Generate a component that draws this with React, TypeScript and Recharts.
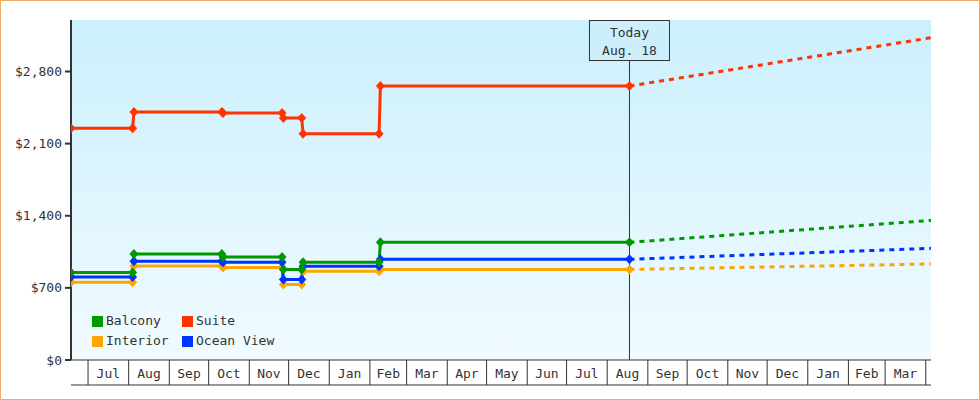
import { LineChart, Line, XAxis, YAxis, CartesianGrid, ReferenceLine } from "recharts";

const FONT = '"DejaVu Sans Mono", "Liberation Mono", monospace';
const INK = "#333333";

// days counted from the first price check (Jun 18)
const priceDays = [0, 47, 48, 115, 116, 161, 162, 176, 177, 235, 236, 426];
const interior = [755, 755, 913, 913, 899, 899, 733, 733, 861, 861, 879, 879];
const oceanView = [805, 805, 958, 958, 948, 948, 782, 782, 909, 909, 977, 977];
const balcony = [850, 850, 1029, 1029, 999, 999, 879, 879, 949, 949, 1142, 1142];
const suite = [2249, 2249, 2407, 2407, 2397, 2397, 2349, 2349, 2197, 2197, 2659, 2659];

// forecast from today to the end of the range
const forecastDays = [426, 656];
const interiorForecast = [879, 932];
const oceanViewForecast = [977, 1084];
const balconyForecast = [1142, 1355];
const suiteForecast = [2659, 3128];

const todayDay = 426;
const todayLines = ["Today", "Aug. 18"];

const monthStarts = [13, 44, 75, 105, 136, 166, 197, 228, 256, 287, 317, 348, 378, 409, 440, 470, 501, 531, 562, 593, 621, 652];
const monthNames = ["Jul", "Aug", "Sep", "Oct", "Nov", "Dec", "Jan", "Feb", "Mar", "Apr", "May", "Jun",
  "Jul", "Aug", "Sep", "Oct", "Nov", "Dec", "Jan", "Feb", "Mar"];
const yTicks = [0, 700, 1400, 2100, 2800];

const series = [
  { name: "Interior", color: "#ffa500", hist: interior, proj: interiorForecast },
  { name: "Ocean View", color: "#0033ff", hist: oceanView, proj: oceanViewForecast },
  { name: "Balcony", color: "#009900", hist: balcony, proj: balconyForecast },
  { name: "Suite", color: "#ff3300", hist: suite, proj: suiteForecast },
];
const legendOrder = ["Balcony", "Suite", "Interior", "Ocean View"];

const toPoints = (days: number[], vals: number[]) => days.map((day, i) => ({ day, price: vals[i] }));

const boundarySet = new Set(monthStarts);
const midLabels = new Map<number, string>();
monthNames.forEach((m, i) => midLabels.set((monthStarts[i] + monthStarts[i + 1]) / 2, m));
const xTicks = [...monthStarts, ...midLabels.keys()].sort((a, b) => a - b);

function MonthTick(props: any) {
  const { x, y, payload } = props;
  if (boundarySet.has(payload.value)) {
    return <line x1={x} x2={x} y1={y} y2={y + 25} stroke={INK} strokeWidth={1} />;
  }
  return (
    <text x={x} y={y + 18} textAnchor="middle" fill={INK} fontSize={13} fontFamily={FONT}>
      {midLabels.get(payload.value)}
    </text>
  );
}

function diamond(color: string) {
  return (p: any) => {
    const { cx, cy, index } = p;
    if (cx == null || cy == null) return <g key={index} />;
    return (
      <polygon
        key={index}
        points={`${cx},${cy - 5} ${cx + 4.5},${cy} ${cx},${cy + 5} ${cx - 4.5},${cy}`}
        fill={color}
      />
    );
  };
}

function TodayLabel(props: any) {
  const { viewBox } = props;
  const cx = viewBox.x;
  const top = viewBox.y;
  return (
    <g>
      <rect x={cx - 40} y={top + 0.5} width={80} height={40} fill="#cdeffc" stroke={INK} strokeWidth={1} />
      {todayLines.map((t, i) => (
        <text key={t} x={cx} y={top + 17 + i * 18} textAnchor="middle" fill={INK} fontSize={13} fontFamily={FONT}>
          {t}
        </text>
      ))}
    </g>
  );
}

export default function App() {
  const byName = new Map(series.map((s) => [s.name, s]));
  return (
    <div
      style={{
        position: "relative",
        width: 980,
        height: 400,
        boxSizing: "border-box",
        border: "1px solid #efab66",
        background: "#fff",
        fontFamily: FONT,
      }}
    >
      <style>{"body{margin:0}"}</style>
      <LineChart width={978} height={398} margin={{ top: 19, right: 48, bottom: 13, left: 0 }}>
        <defs>
          <linearGradient id="plotBg" x1="0" y1="0" x2="0" y2="1">
            <stop offset="0%" stopColor="#cbeffc" />
            <stop offset="100%" stopColor="#f1fbff" />
          </linearGradient>
        </defs>
        <CartesianGrid horizontal={false} vertical={false} fill="url(#plotBg)" />
        <XAxis
          dataKey="day"
          type="number"
          domain={[0, 656]}
          ticks={xTicks}
          interval={0}
          height={25}
          tickSize={0}
          tickMargin={0}
          tickLine={false}
          axisLine={{ stroke: INK, strokeWidth: 1 }}
          tick={<MonthTick />}
          allowDataOverflow
        />
        <XAxis
          xAxisId="base"
          type="number"
          domain={[0, 656]}
          ticks={[]}
          tick={false}
          tickLine={false}
          height={1}
          axisLine={{ stroke: INK, strokeWidth: 1 }}
          allowDataOverflow
        />
        <YAxis
          dataKey="price"
          type="number"
          width={70}
          domain={[0, 3300]}
          ticks={yTicks}
          interval={0}
          tickSize={6}
          tickMargin={3}
          tickFormatter={(v: number) => `$${v.toLocaleString("en-US")}`}
          tick={{ fill: INK, fontSize: 13, fontFamily: FONT }}
          tickLine={{ stroke: INK, strokeWidth: 2 }}
          axisLine={{ stroke: INK, strokeWidth: 2 }}
          allowDataOverflow
        />
        <ReferenceLine x={todayDay} stroke={INK} strokeWidth={1} label={<TodayLabel />} />
        {series.map((s) => (
          <Line
            key={s.name + "-proj"}
            data={toPoints(forecastDays, s.proj)}
            dataKey="price"
            type="linear"
            stroke={s.color}
            strokeWidth={3}
            strokeDasharray="5 5"
            dot={false}
            activeDot={false}
            isAnimationActive={false}
          />
        ))}
        {series.map((s) => (
          <Line
            key={s.name}
            data={toPoints(priceDays, s.hist)}
            dataKey="price"
            name={s.name}
            type="linear"
            stroke={s.color}
            strokeWidth={3}
            dot={diamond(s.color)}
            activeDot={false}
            isAnimationActive={false}
          />
        ))}
      </LineChart>
      <div
        style={{
          position: "absolute",
          left: 91,
          top: 311,
          display: "grid",
          gridTemplateColumns: "90px auto",
          rowGap: 2,
          fontSize: 13,
          color: INK,
          lineHeight: "18px",
        }}
      >
        {legendOrder.map((n) => (
          <div key={n} style={{ display: "flex", alignItems: "center" }}>
            <span
              style={{
                display: "inline-block",
                width: 11,
                height: 11,
                background: byName.get(n)!.color,
                marginRight: 3,
              }}
            />
            {n}
          </div>
        ))}
      </div>
    </div>
  );
}
